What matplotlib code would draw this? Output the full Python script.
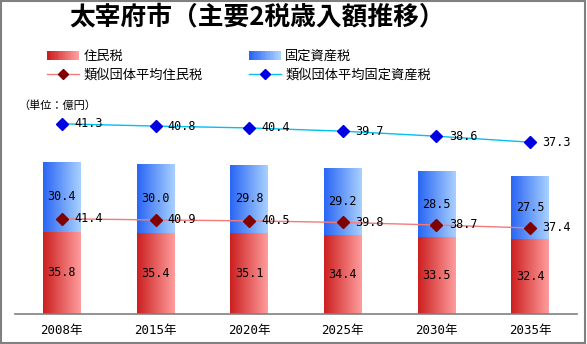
import numpy as np
import matplotlib.pyplot as plt
from matplotlib.colors import LinearSegmentedColormap
from matplotlib.patches import Rectangle
from matplotlib.lines import Line2D
from matplotlib.legend_handler import HandlerTuple

plt.rcParams['font.family'] = ['Noto Sans CJK JP', 'DejaVu Sans']

# Data
years = ["2008年", "2015年", "2020年", "2025年", "2030年", "2035年"]
juminzei = [35.8, 35.4, 35.1, 34.4, 33.5, 32.4]
kotei = [30.4, 30.0, 29.8, 29.2, 28.5, 27.5]
ruiji_jumin = [41.4, 40.9, 40.5, 39.8, 38.7, 37.4]
ruiji_kotei = [41.3, 40.8, 40.4, 39.7, 38.6, 37.3]

RED_CMAP = LinearSegmentedColormap.from_list("red", ["#cc2020", "#ff9c9c"])
BLUE_CMAP = LinearSegmentedColormap.from_list("blue", ["#2a66f5", "#a8d0ff"])
NUM_FONT = ['DejaVu Sans Mono', 'Noto Sans CJK JP']


def gradient_bars(ax, bars, cmap):
    grad = np.linspace(0, 1, 64).reshape(1, -1)
    for b in bars:
        x0, y0 = b.get_x(), b.get_y()
        w, h = b.get_width(), b.get_height()
        im = ax.imshow(grad, cmap=cmap, aspect="auto", extent=(x0, x0 + w, y0, y0 + h),
                       zorder=b.get_zorder(), interpolation="bilinear")
        im.set_clip_path(b)
        b.set_facecolor("none")


fig = plt.figure(figsize=(5.87, 3.44), dpi=100)
W, H = 587, 344
ax = fig.add_axes([15 / W, 30 / H, 562 / W, 207 / H])

x = np.arange(len(years))
bw = 0.405
b1 = ax.bar(x, juminzei, bw, color="#e06060", zorder=2)
b2 = ax.bar(x, kotei, bw, bottom=juminzei, color="#6a9cf8", zorder=2)
gradient_bars(ax, b1, RED_CMAP)
gradient_bars(ax, b2, BLUE_CMAP)

# stacked line chart
stack_top = np.array(ruiji_jumin) + np.array(ruiji_kotei)
ax.plot(x, ruiji_jumin, color="#f47a7a", lw=1, marker="D", ms=6,
        mfc="#800000", mec="#800000", zorder=3)
ax.plot(x, stack_top, color="#00c0f0", lw=1, marker="D", ms=6,
        mfc="#0000e0", mec="#0000e0", zorder=3)

fs = 8.5
for i in range(len(years)):
    ax.text(x[i], juminzei[i] / 2, f"{juminzei[i]:.1f}", ha="center", va="center",
            fontsize=fs, family=NUM_FONT, zorder=4)
    ax.text(x[i], juminzei[i] + kotei[i] / 2, f"{kotei[i]:.1f}", ha="center", va="center",
            fontsize=fs, family=NUM_FONT, zorder=4)
    ax.text(x[i] + 0.13, ruiji_jumin[i], f"{ruiji_jumin[i]:.1f}", ha="left", va="center",
            fontsize=fs, family=NUM_FONT, zorder=4)
    ax.text(x[i] + 0.13, stack_top[i], f"{ruiji_kotei[i]:.1f}", ha="left", va="center",
            fontsize=fs, family=NUM_FONT, zorder=4)

ax.set_xlim(-0.5, len(years) - 0.5)
ax.set_ylim(0, 90)
ax.set_xticks(x)
ax.set_xticklabels(years, fontsize=9, family=NUM_FONT)
ax.tick_params(axis="x", length=0, pad=7)
ax.set_yticks([])
for s in ["top", "left", "right"]:
    ax.spines[s].set_visible(False)
ax.spines["bottom"].set_color("#808080")
ax.spines["bottom"].set_linewidth(1.2)
ax.patch.set_alpha(0)

# title and unit
fig.text(257 / W, 1 - 17 / H, "太宰府市（主要2税歳入額推移）", ha="center", va="center",
         fontsize=18.5, fontweight="bold")
fig.text(18 / W, 1 - 106 / H, "（単位：億円）", ha="left", va="center", fontsize=8)

# legends with gradient handles
def grad_handle(cmap, n=12):
    return tuple(Rectangle((0, 0), 1, 1, facecolor=cmap(v), edgecolor="none") for v in np.linspace(0, 1, n))


red_line = Line2D([], [], color="#f47a7a", lw=1, marker="D", ms=5, mfc="#800000", mec="#800000")
blue_line = Line2D([], [], color="#00c0f0", lw=1, marker="D", ms=5, mfc="#0000e0", mec="#0000e0")
hmap = {tuple: HandlerTuple(ndivide=None, pad=0)}
leg_kw = dict(frameon=False, fontsize=9.5, handlelength=2.4, handletextpad=0.35,
              labelspacing=0.4, borderaxespad=0, borderpad=0, handler_map=hmap)
fig.legend([grad_handle(RED_CMAP), red_line], ["住民税", "類似団体平均住民税"],
           loc="upper left", bbox_to_anchor=(47 / W, 1 - 50 / H), **leg_kw)
fig.legend([grad_handle(BLUE_CMAP), blue_line], ["固定資産税", "類似団体平均固定資産税"],
           loc="upper left", bbox_to_anchor=(249 / W, 1 - 50 / H), **leg_kw)

# outer border
fig.patches.append(Rectangle((0.001, 0.003), 0.996, 0.995, transform=fig.transFigure,
                             fill=False, edgecolor="#808080", lw=1.5))

fig.savefig("out.png", dpi=100)
